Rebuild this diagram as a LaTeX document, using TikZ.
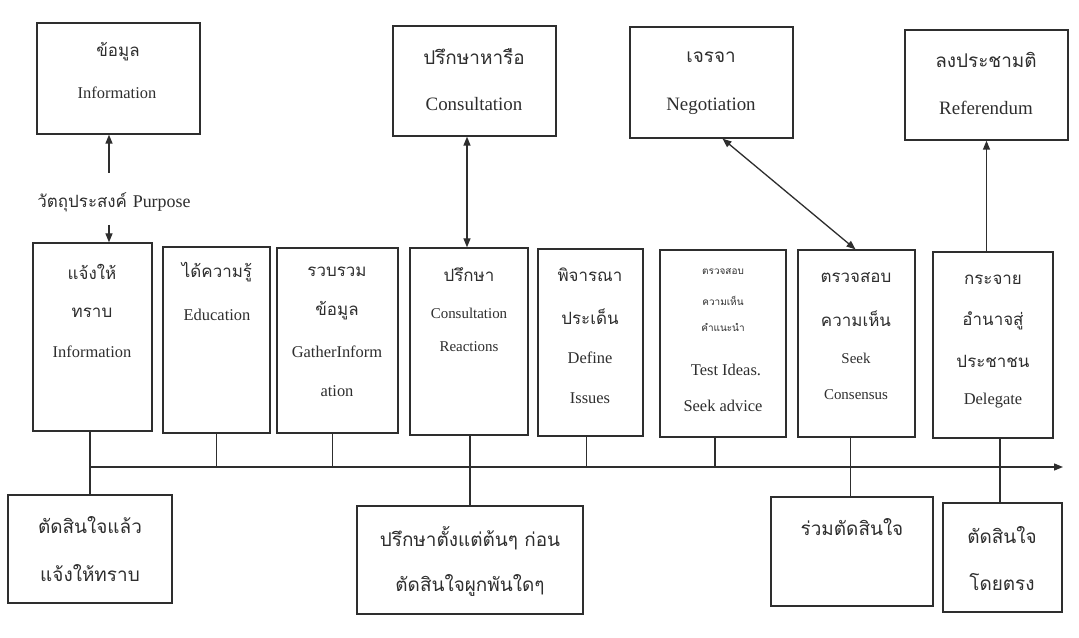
\documentclass[tikz,border=0pt]{standalone}
\usepackage{fontspec}
\setmainfont{Liberation Serif}
\newfontfamily\thai[Script=Thai]{Loma}
\usetikzlibrary{arrows.meta,fit}
\definecolor{ink}{HTML}{2E2E2E}
\begin{document}
\begin{tikzpicture}[x=1bp,y=-1bp,
  box/.style={draw=ink, line width=1.3bp, inner sep=0pt},
  lat/.style={font=\fontsize{16.5}{18}\selectfont, text=ink, inner sep=0pt},
  latb/.style={font=\fontsize{19}{21}\selectfont, text=ink, inner sep=0pt},
  lats/.style={font=\fontsize{15}{17}\selectfont, text=ink, inner sep=0pt},
  th/.style={font=\thai\fontsize{17}{19}\selectfont, text=ink, inner sep=0pt},
  thb/.style={font=\thai\fontsize{19}{21}\selectfont, text=ink, inner sep=0pt},
  ths/.style={font=\thai\fontsize{10}{12}\selectfont, text=ink, inner sep=0pt},
  conn/.style={draw=ink, line width=1.3bp},
  arr/.style={conn, -{Triangle[length=9bp,width=7bp]}},
  arrb/.style={conn, {Triangle[length=9bp,width=7bp]}-{Triangle[length=9bp,width=7bp]}}]
\useasboundingbox[fill=white] (0,0) rectangle (1079,638);

% top boxes
\node[box, fit={(37,23) (200,134)}] (tinfo) {};
\node[th] (tinfo1) at (118,52) {ข้อมูล};
\node[lat] (tinfo2) at (117,93) {Information};
\node[box, fit={(393,26) (556,136)}] (tcons) {};
\node[thb] (tcons1) at (474,57) {ปรึกษาหารือ};
\node[latb] (tcons2) at (474,104) {Consultation};
\node[box, fit={(630,27) (793,138)}] (tneg) {};
\node[thb] (tneg1) at (711,57) {เจรจา};
\node[latb] (tneg2) at (711,106) {Negotiation};
\node[box, fit={(905,30) (1068,140)}] (tref) {};
\node[thb] (tref1) at (986,60) {ลงประชามติ};
\node[latb] (tref2) at (986,108) {Referendum};

% purpose
\node[th] (purp) at (114,202) {วัตถุประสงค์ \fontsize{18}{20}\rmfamily Purpose};

% middle boxes
\node[box, fit={(33,243) (152,431)}] (b1) {};
\node[th] (b1a) at (92,272) {แจ้งให้};
\node[th] (b1b) at (92,313) {ทราบ};
\node[lat] (b1c) at (92,352) {Information};

\node[box, fit={(163,247) (270,433)}] (b2) {};
\node[th] (b2a) at (217,272) {ได้ความรู้};
\node[lat] (b2b) at (217,315) {Education};

\node[box, fit={(277,248) (398,433)}] (b3) {};
\node[th] (b3a) at (337,272) {รวบรวม};
\node[th] (b3b) at (337,311) {ข้อมูล};
\node[lat] (b3c) at (337,352) {GatherInform};
\node[lat] (b3d) at (337,391) {ation};

\node[box, fit={(410,248) (528,435)}] (b4) {};
\node[th] (b4a) at (469,275) {ปรึกษา};
\node[lats] (b4b) at (469,313) {Consultation};
\node[lats] (b4c) at (469,347) {Reactions};

\node[box, fit={(538,249) (643,436)}] (b5) {};
\node[th] (b5a) at (590,275) {พิจารณา};
\node[th] (b5b) at (590,317) {ประเด็น};
\node[lat] (b5c) at (590,358) {Define};
\node[lat] (b5d) at (590,398) {Issues};

\node[box, fit={(660,250) (786,437)}] (b6) {};
\node[ths] (b6a) at (723,272) {ตรวจสอบ};
\node[ths] (b6b) at (723,301) {ความเห็น};
\node[ths] (b6c) at (723,327) {คำแนะนำ};
\node[lat] (b6d) at (726,370) {Test Ideas.};
\node[lat] (b6e) at (723,406) {Seek advice};

\node[box, fit={(798,250) (915,437)}] (b7) {};
\node[th] (b7a) at (856,278) {ตรวจสอบ};
\node[th] (b7b) at (856,319) {ความเห็น};
\node[lats] (b7c) at (856,358) {Seek};
\node[lats] (b7d) at (856,395) {Consensus};

\node[box, fit={(933,252) (1053,438)}] (b8) {};
\node[th] (b8a) at (993,280) {กระจาย};
\node[th] (b8b) at (993,321) {อำนาจสู่};
\node[th] (b8c) at (993,361) {ประชาชน};
\node[lat] (b8d) at (993,401) {Delegate};

% bottom boxes
\node[box, fit={(8,495) (172,603)}] (d1) {};
\node[thb] (d1a) at (90,525) {ตัดสินใจแล้ว};
\node[thb] (d1b) at (90,573) {แจ้งให้ทราบ};
\node[box, fit={(357,506) (583,614)}] (d4) {};
\node[thb] (d4a) at (470,538) {ปรึกษาตั้งแต่ต้นๆ ก่อน};
\node[thb] (d4b) at (470,585) {ตัดสินใจผูกพันใดๆ};
\node[box, fit={(771,497) (933,606)}] (d7) {};
\node[thb] (d7a) at (852,527) {ร่วมตัดสินใจ};
\node[box, fit={(943,503) (1062,612)}] (d8) {};
\node[thb] (d8a) at (1002,535) {ตัดสินใจ};
\node[thb] (d8b) at (1002,582) {โดยตรง};

% arrows to the top boxes
\coordinate (pa) at (109,173);
\coordinate (pb) at (109,225);
\draw[arr] (pa) -- (pa |- tinfo.south);
\draw[arr] (pb) -- (pb |- b1.north);
\draw[arrb] (b4.north -| 467,0) -- (tcons.south -| 467,0);
\draw[arrb] ([xshift=11bp]tneg.south) -- ([xshift=-1bp]b7.north);
\draw[arr] (tref.south |- b8.north) -- (tref.south);

% timeline
\coordinate (t0) at (90,467);
\coordinate (t1) at (1063,467);
\draw[arr] (t0) -- (t1);
\draw[conn] (d1.north |- b1.south) -- (d1.north);
\draw[conn] (b2.south) -- (b2.south |- t0);
\draw[conn] ([xshift=-5bp]b3.south) -- ([xshift=-5bp]b3.south |- t0);
\draw[conn] (b4.south -| d4.north) -- (d4.north);
\draw[conn] ([xshift=-4bp]b5.south) -- ([xshift=-4bp]b5.south |- t0);
\draw[conn] ([xshift=-8bp]b6.south) -- ([xshift=-8bp]b6.south |- t0);
\draw[conn] ([xshift=-6bp]b7.south) -- ([xshift=-6bp]b7.south |- d7.north);
\draw[conn] ([xshift=7bp]b8.south) -- ([xshift=7bp]b8.south |- d8.north);
\end{tikzpicture}
\end{document}
